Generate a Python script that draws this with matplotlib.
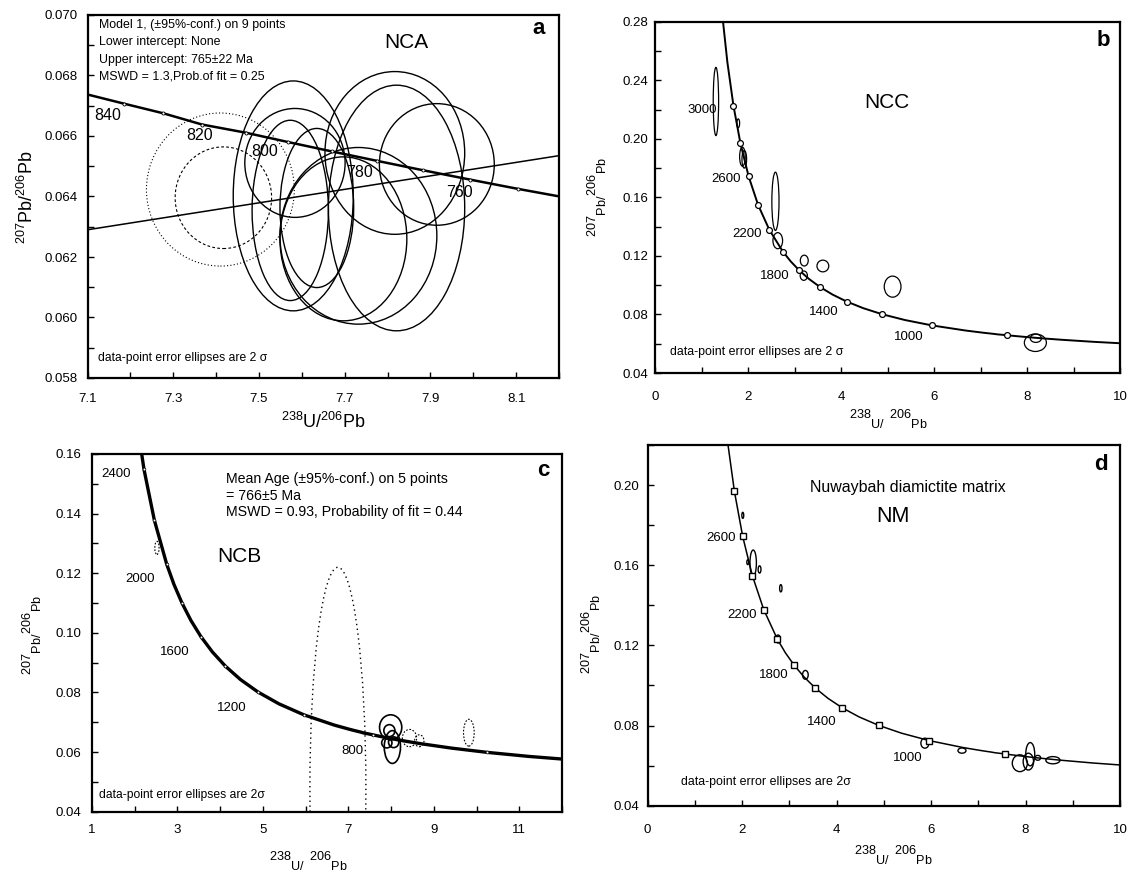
import matplotlib
matplotlib.use("Agg")
import matplotlib.pyplot as plt
from matplotlib.patches import Ellipse
from matplotlib.ticker import MultipleLocator, FormatStrFormatter, FixedLocator

plt.rcParams['font.family'] = ['Liberation Sans', 'DejaVu Sans']
plt.rcParams['mathtext.fontset'] = 'custom'
plt.rcParams['mathtext.rm'] = 'Liberation Sans'
plt.rcParams['mathtext.it'] = 'Liberation Sans'
plt.rcParams['mathtext.default'] = 'regular'

# ---------------- data ----------------
# Concordia reference points: age (Ma), 238U/206Pb, 207Pb/206Pb
conc_age = [500, 550, 600, 650, 700, 730, 740, 750, 760, 770, 780, 790, 800, 810, 820,
            830, 840, 850, 860, 900, 1000, 1100, 1200, 1300, 1400, 1500, 1600, 1700,
            1800, 1900, 2000, 2200, 2400, 2600, 2800, 3000, 3200, 3400]
conc_x = [12.399, 11.228, 10.252, 9.426, 8.718, 8.340, 8.221, 8.105, 7.992, 7.882, 7.775,
          7.670, 7.568, 7.469, 7.367, 7.277, 7.185, 7.095, 7.007, 6.674, 5.959, 5.375,
          4.888, 4.476, 4.123, 3.817, 3.550, 3.314, 3.105, 2.917, 2.749, 2.459, 2.217,
          2.013, 1.838, 1.687, 1.556, 1.440]
conc_y = [0.05722, 0.05854, 0.05990, 0.06131, 0.06276, 0.06365, 0.06395, 0.06425, 0.06456,
          0.06487, 0.06518, 0.06549, 0.06580, 0.06611, 0.06638, 0.06675, 0.06707, 0.06739,
          0.06772, 0.06904, 0.07250, 0.07619, 0.08012, 0.08432, 0.08881, 0.09360, 0.09872,
          0.10419, 0.11004, 0.11629, 0.12299, 0.13782, 0.15483, 0.17437, 0.19682, 0.22266,
          0.25242, 0.28674]

# Panel a (NCA)
a_xticks = [7.1, 7.3, 7.5, 7.7, 7.9, 8.1]
a_mark_ages = [750, 760, 770, 780, 790, 800, 810, 820, 830, 840, 850]
a_lab_ages = ["840", "820", "800", "780", "760"]
a_lab_x = [7.146, 7.362, 7.513, 7.734, 7.968]
a_lab_y = [0.06669, 0.06602, 0.06549, 0.06478, 0.06414]
a_disc_x = [7.1, 8.2]
a_disc_y = [0.0629, 0.06535]
a_ell_x = [7.915, 7.584, 7.580, 7.817, 7.821, 7.635, 7.732, 7.697, 7.573]
a_ell_y = [0.06506, 0.06511, 0.06402, 0.06544, 0.06362, 0.06362, 0.06270, 0.06260, 0.06354]
a_ell_rx = [0.134, 0.117, 0.140, 0.163, 0.159, 0.086, 0.183, 0.148, 0.089]
a_ell_ry = [0.00201, 0.00180, 0.00380, 0.00269, 0.00406, 0.00263, 0.00292, 0.00271, 0.00298]
a_rej_x = [7.410, 7.417]
a_rej_y = [0.06423, 0.06396]
a_rej_rx = [0.1725, 0.1125]
a_rej_ry = [0.00253, 0.00168]

# Panel b (NCC)
b_mark_ages = [800, 1000, 1200, 1400, 1600, 1800, 2000, 2200, 2400, 2600, 2800, 3000]
b_lab_ages = ["3000", "2600", "2200", "1800", "1400", "1000"]
b_lab_x = [1.01, 1.53, 1.99, 2.57, 3.62, 5.46]
b_lab_y = [0.2198, 0.1727, 0.1352, 0.1066, 0.0818, 0.0643]
b_ell_x = [1.31, 1.79, 1.88, 1.92, 2.59, 2.64, 3.21, 3.20, 3.61, 5.11, 8.18, 8.19]
b_ell_y = [0.2255, 0.2106, 0.1878, 0.1860, 0.1573, 0.1304, 0.1168, 0.1065, 0.1131, 0.0990, 0.0607, 0.0637]
b_ell_rx = [0.058, 0.030, 0.060, 0.050, 0.077, 0.104, 0.085, 0.078, 0.127, 0.180, 0.237, 0.120]
b_ell_ry = [0.0233, 0.0030, 0.0065, 0.0060, 0.0199, 0.0055, 0.0037, 0.0032, 0.0040, 0.0072, 0.0060, 0.0028]

# Panel c (NCB)
c_xticks = [1, 3, 5, 7, 9, 11]
c_mark_ages = [600, 800, 1000, 1200, 1400, 1600, 1800, 2000, 2200, 2400]
c_lab_ages = ["2400", "2000", "1600", "1200", "800"]
c_lab_x = [1.56, 2.13, 2.93, 4.26, 7.10]
c_lab_y = [0.1532, 0.1180, 0.0937, 0.0749, 0.0605]
c_ell_x = [7.99, 8.03, 7.96, 7.90, 8.06]
c_ell_y = [0.0683, 0.0617, 0.0672, 0.0631, 0.0633]
c_ell_rx = [0.26, 0.19, 0.13, 0.12, 0.12]
c_ell_ry = [0.0042, 0.0055, 0.0020, 0.0017, 0.0018]
c_rej_x = [8.43, 8.66, 9.82, 2.52]
c_rej_y = [0.0647, 0.0638, 0.0665, 0.1285]
c_rej_rx = [0.167, 0.11, 0.125, 0.05]
c_rej_ry = [0.0029, 0.0020, 0.0045, 0.0022]
c_big_x = [6.755]
c_big_y = [0.048]
c_big_rx = [0.655]
c_big_ry = [0.074]

# Panel d (NM)
d_mark_ages = [800, 1000, 1200, 1400, 1600, 1800, 2000, 2200, 2400, 2600, 2800]
d_lab_ages = ["2600", "2200", "1800", "1400", "1000"]
d_lab_x = [1.56, 2.01, 2.67, 3.68, 5.50]
d_lab_y = [0.1737, 0.1352, 0.1053, 0.0820, 0.0640]
d_ell_x = [2.015, 2.235, 2.12, 2.37, 2.82, 2.76, 3.34, 5.87, 6.655, 7.88, 8.10, 8.06, 8.26, 8.58]
d_ell_y = [0.1849, 0.1611, 0.1615, 0.1579, 0.1485, 0.1232, 0.1053, 0.0712, 0.0675, 0.0612,
           0.0657, 0.0620, 0.0639, 0.0627]
d_ell_rx = [0.020, 0.068, 0.020, 0.030, 0.025, 0.050, 0.060, 0.085, 0.085, 0.160, 0.095, 0.110, 0.060, 0.150]
d_ell_ry = [0.0015, 0.0065, 0.0012, 0.0018, 0.0018, 0.0020, 0.0022, 0.0025, 0.0013, 0.0042,
            0.0058, 0.0042, 0.0012, 0.0018]

# ---------------- figure ----------------
W, H = 1132, 874
fig = plt.figure(figsize=(W / 100, H / 100), dpi=100)


def add_ax(l, t, r, b):
    return fig.add_axes([l / W, 1 - b / H, (r - l) / W, (b - t) / H])


def ftext(px, py, s, **kw):
    fig.text(px / W, 1 - py / H, s, **kw)


def style_axes(ax, xlim, ylim, xmaj, xmin, ymaj, ymin, xfmt, yfmt, xpad, ypad):
    ax.set_xlim(*xlim)
    ax.set_ylim(*ylim)
    ax.xaxis.set_major_locator(MultipleLocator(xmaj))
    ax.xaxis.set_minor_locator(MultipleLocator(xmin))
    ax.yaxis.set_major_locator(MultipleLocator(ymaj))
    ax.yaxis.set_minor_locator(MultipleLocator(ymin))
    ax.xaxis.set_major_formatter(FormatStrFormatter(xfmt))
    ax.yaxis.set_major_formatter(FormatStrFormatter(yfmt))
    ax.tick_params(which='both', direction='in', length=4.5, width=1.0,
                   top=False, right=False, labelsize=9.5)
    ax.tick_params(axis='x', which='both', pad=xpad)
    ax.tick_params(axis='y', which='both', pad=ypad)
    for sp in ax.spines.values():
        sp.set_linewidth(1.6)


def conc_points(ages):
    idx = [conc_age.index(a) for a in ages]
    return [conc_x[i] for i in idx], [conc_y[i] for i in idx]


def ellipses(ax, xs, ys, rxs, rys, lw=0.9, ls='-'):
    for x, y, rx, ry in zip(xs, ys, rxs, rys):
        ax.add_patch(Ellipse((x, y), 2 * rx, 2 * ry, fill=False, ec='k', lw=lw, ls=ls, zorder=3))


# ---- panel a ----
axa = add_ax(87.5, 15, 559, 378)
style_axes(axa, (7.1, 8.2), (0.058, 0.070), 0.2, 0.1, 0.002, 0.001, '%.1f', '%.3f', 11, 7)
axa.xaxis.set_major_locator(FixedLocator(a_xticks))
axa.plot(conc_x, conc_y, color='k', lw=1.8, zorder=4)
mx, my = conc_points(a_mark_ages)
axa.plot(mx, my, ls='none', marker='o', ms=2.2, mfc='white', mec='k', mew=0.6, zorder=5)
axa.plot(a_disc_x, a_disc_y, color='k', lw=1.1, zorder=4)
ellipses(axa, a_ell_x, a_ell_y, a_ell_rx, a_ell_ry, lw=1.0)
ellipses(axa, a_rej_x[:1], a_rej_y[:1], a_rej_rx[:1], a_rej_ry[:1], lw=0.8, ls=(0, (1, 2)))
ellipses(axa, a_rej_x[1:], a_rej_y[1:], a_rej_rx[1:], a_rej_ry[1:], lw=0.8, ls=(0, (2.5, 2)))
for s, x, y in zip(a_lab_ages, a_lab_x, a_lab_y):
    axa.text(x, y, s, fontsize=11.5, ha='center', va='center', zorder=6)

for i, line in enumerate(["Model 1, (\u00b195%-conf.) on 9 points", "Lower intercept: None",
                          "Upper intercept: 765\u00b122 Ma", "MSWD = 1.3,Prob.of fit = 0.25"]):
    ftext(99, 25 + i * 17.3, line, fontsize=8.9, ha='left', va='center')
ftext(406, 42, "NCA", fontsize=15, ha='center', va='center')
ftext(539, 28, "a", fontsize=16, fontweight='bold', ha='center', va='center')
ftext(98, 358, "data-point error ellipses are 2 \u03c3", fontsize=8.7, ha='left', va='center')
ftext(27, 197, r"$^{207}$Pb/$^{206}$Pb", fontsize=13, rotation=90, ha='center', va='center')
ftext(323, 422, r"$^{238}$U/$^{206}$Pb", fontsize=13, ha='center', va='center')

small_ylab = r"${}^{207}{}_{Pb/}{}^{206}{}_{Pb}$"
small_xlab = r"${}^{238}{}_{U/}\ {}^{206}{}_{Pb}$"

# ---- panel b ----
axb = add_ax(655, 21.7, 1120, 373)
style_axes(axb, (0, 10), (0.04, 0.28), 2, 1, 0.04, 0.02, '%d', '%.2f', 13, 5)
axb.plot(conc_x, conc_y, color='k', lw=1.4, zorder=4)
mx, my = conc_points(b_mark_ages)
axb.plot(mx, my, ls='none', marker='o', ms=4.2, mfc='white', mec='k', mew=0.9, zorder=5)
ellipses(axb, b_ell_x, b_ell_y, b_ell_rx, b_ell_ry, lw=0.9)
for s, x, y in zip(b_lab_ages, b_lab_x, b_lab_y):
    axb.text(x, y, s, fontsize=9.5, ha='center', va='center', zorder=6)
ftext(887, 103, "NCC", fontsize=15, ha='center', va='center')
ftext(1103, 40, "b", fontsize=16, fontweight='bold', ha='center', va='center')
ftext(670, 352, "data-point error ellipses are 2 \u03c3", fontsize=8.9, ha='left', va='center')
ftext(597, 197, small_ylab, fontsize=13, rotation=90, ha='center', va='center')
ftext(888, 419, small_xlab, fontsize=13, ha='center', va='center')

# ---- panel c ----
axc = add_ax(92, 454, 562, 811.7)
style_axes(axc, (1, 12), (0.04, 0.16), 2, 1, 0.02, 0.01, '%d', '%.2f', 9, 8)
axc.xaxis.set_major_locator(FixedLocator(c_xticks))
axc.plot(conc_x, conc_y, color='k', lw=2.4, zorder=4)
mx, my = conc_points(c_mark_ages)
axc.plot(mx, my, ls='none', marker='o', ms=2.0, mfc='white', mec='k', mew=0.5, zorder=5)
ellipses(axc, c_ell_x, c_ell_y, c_ell_rx, c_ell_ry, lw=1.2)
ellipses(axc, c_rej_x, c_rej_y, c_rej_rx, c_rej_ry, lw=0.8, ls=(0, (1.5, 1.5)))
ellipses(axc, c_big_x, c_big_y, c_big_rx, c_big_ry, lw=1.0, ls=(0, (1, 2.5)))
for s, x, y in zip(c_lab_ages, c_lab_x, c_lab_y):
    axc.text(x, y, s, fontsize=9.5, ha='center', va='center', zorder=6)
for i, line in enumerate(["Mean Age (\u00b195%-conf.) on 5 points", "= 766\u00b15 Ma",
                          "MSWD = 0.93, Probability of fit = 0.44"]):
    ftext(226, 479 + i * 16.5, line, fontsize=10.2, ha='left', va='center')
ftext(239, 557, "NCB", fontsize=15, ha='center', va='center')
ftext(543, 471, "c", fontsize=16, fontweight='bold', ha='center', va='center')
ftext(99, 795, "data-point error ellipses are 2\u03c3", fontsize=8.7, ha='left', va='center')
ftext(32, 635, small_ylab, fontsize=13, rotation=90, ha='center', va='center')
ftext(308, 861, small_xlab, fontsize=13, ha='center', va='center')

# ---- panel d ----
axd = add_ax(647.6, 445, 1120, 805.7)
style_axes(axd, (0, 10), (0.04, 0.22), 2, 1, 0.04, 0.02, '%d', '%.2f', 13, 6)
axd.plot(conc_x, conc_y, color='k', lw=1.1, zorder=4)
mx, my = conc_points(d_mark_ages)
axd.plot(mx, my, ls='none', marker='s', ms=4.6, mfc='white', mec='k', mew=1.0, zorder=5)
ellipses(axd, d_ell_x, d_ell_y, d_ell_rx, d_ell_ry, lw=1.0)
for s, x, y in zip(d_lab_ages, d_lab_x, d_lab_y):
    axd.text(x, y, s, fontsize=9.5, ha='center', va='center', zorder=6)
ftext(908, 487, "Nuwaybah diamictite matrix", fontsize=11.5, ha='center', va='center')
ftext(893, 517, "NM", fontsize=15.5, ha='center', va='center')
ftext(1101, 465, "d", fontsize=16, fontweight='bold', ha='center', va='center')
ftext(681, 782, "data-point error ellipses are 2\u03c3", fontsize=8.9, ha='left', va='center')
ftext(591, 634, small_ylab, fontsize=13, rotation=90, ha='center', va='center')
ftext(893, 855, small_xlab, fontsize=13, ha='center', va='center')

fig.savefig("out.png", dpi=100, facecolor='white')
